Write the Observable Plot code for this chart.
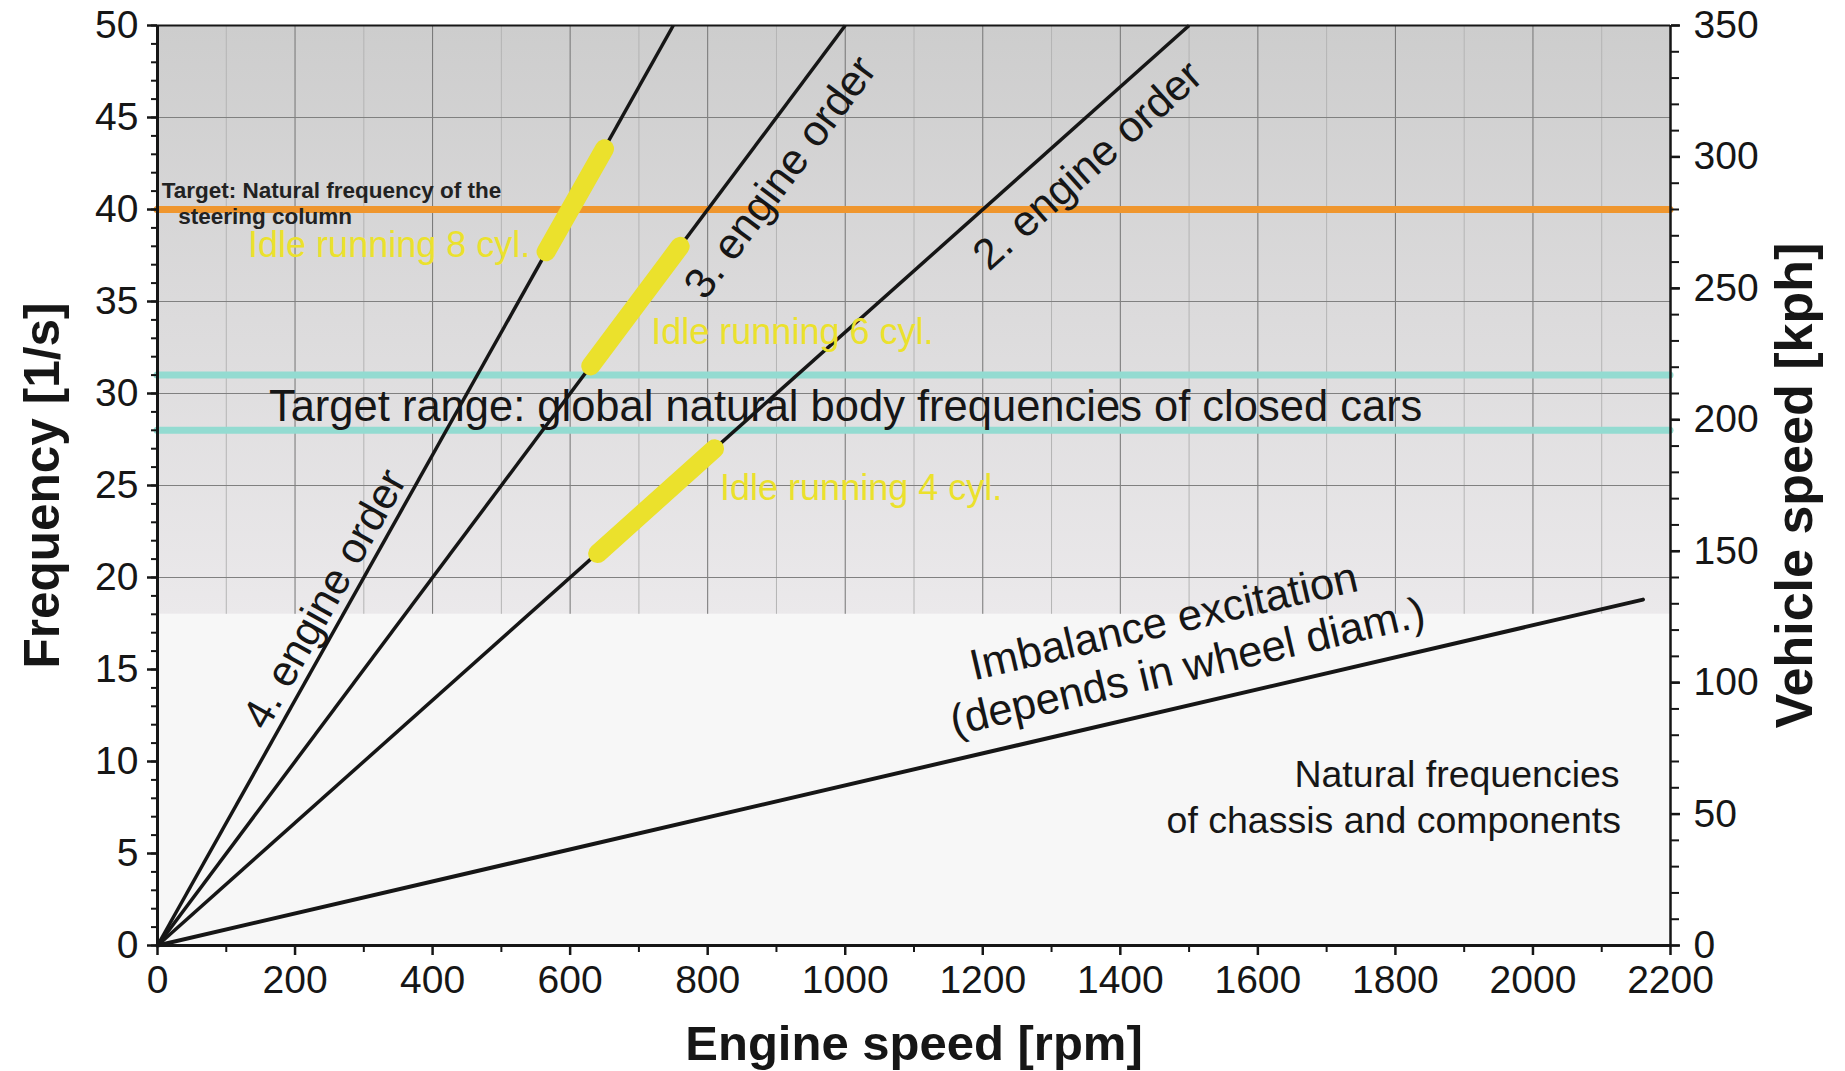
<!DOCTYPE html>
<html>
<head>
<meta charset="utf-8">
<script src="https://cdn.jsdelivr.net/npm/d3@7"></script>
<script src="https://cdn.jsdelivr.net/npm/@observablehq/plot@0.6"></script>
<style>
  html, body { margin: 0; padding: 0; background: #fff; }
  #chart svg { display: block; }
</style>
</head>
<body>
<div id="chart"></div>
<script>
// ---- Chart data -------------------------------------------------------
// Axes
const rpmDomain = [0, 2200];
const hzDomain = [0, 50];
const rpmLabelTicks = [0, 200, 400, 600, 800, 1000, 1200, 1400, 1600, 1800, 2000, 2200];
const hzLabelTicks = [0, 5, 10, 15, 20, 25, 30, 35, 40, 45, 50];
const kphLabelTicks = [0, 50, 100, 150, 200, 250, 300, 350];
const kphPerHz = 7; // 350 kph on the right axis sits at 50 1/s

// Engine order lines (from the origin up to the 50 1/s ceiling)
const orderLabels = ["4. engine order", "3. engine order", "2. engine order"];
const orderRpmTop = [750, 1000, 1500];
const orderHzTop = [50, 50, 50];
const orderLabelRpm = [158, 796, 1209];
const orderLabelHz = [11.6, 35.0, 36.6];

// Wheel imbalance excitation
const imbalanceRpm = [0, 2160];
const imbalanceHz = [0, 18.8];
const imbalanceLabels = ["Imbalance excitation", "(depends in wheel diam.)"];
const imbalanceLabelRpm = [1187, 1158];
const imbalanceLabelHz = [14.4, 11.4];

// Idle-speed ranges on the matching engine order
const idleLabels = ["Idle running 8 cyl.", "Idle running 6 cyl.", "Idle running 4 cyl."];
const idleRpmLow = [565, 630, 640];
const idleHzLow = [37.7, 31.5, 21.3];
const idleRpmHigh = [650, 760, 810];
const idleHzHigh = [43.3, 38.0, 27.0];
const idleLabelRpm = [542, 718, 818];
const idleLabelHz = [37.4, 32.7, 24.2];
const idleLabelAnchor = ["end", "start", "start"];

// Target frequencies
const steeringHz = 40;
const steeringLabels = ["Target: Natural frequency of the", "steering column"];
const steeringLabelRpm = [6, 30];
const steeringLabelHz = [40.6, 39.2];
const bodyRangeHz = [28, 31];
const bodyRangeLabel = "Target range: global natural body frequencies of closed cars";
const bodyRangeLabelRpm = 162;
const bodyRangeLabelHz = 28.5;

// Frequency bands: chassis/components below, body above
const chassisBandHz = [0, 18];
const bodyBandHz = [18, 50];
const chassisLabels = ["Natural frequencies", "of chassis and components"];
const chassisLabelRpm = [2126, 2128];
const chassisLabelHz = [8.6, 6.1];

// ---- Layout -----------------------------------------------------------
const W = 1845, H = 1071;
const M = {left: 157, right: 175, top: 25, bottom: 126};
const plotW = W - M.left - M.right;
const plotH = H - M.top - M.bottom;
const ink = "#161616";
const yellow = "#ebe12c";

// screen angle (degrees) of a line from the origin through (rpm, hz)
const screenAngle = (rpm, hz) =>
  -Math.atan2((hz / hzDomain[1]) * plotH, (rpm / rpmDomain[1]) * plotW) * 180 / Math.PI;

const idx3 = [0, 1, 2];
const rpmGridMinor = d3.range(100, 2200, 200);
const rpmGridMajor = d3.range(200, 2200, 200);
const hzGrid = d3.range(20, 50, 5);

const idleText = anchor => Plot.text(idx3.filter(i => idleLabelAnchor[i] === anchor), {
  x: i => idleLabelRpm[i], y: i => idleLabelHz[i], text: i => idleLabels[i],
  textAnchor: anchor, lineAnchor: "bottom", fontSize: 36, fill: yellow
});

const chart = Plot.plot({
  width: W,
  height: H,
  marginLeft: M.left,
  marginRight: M.right,
  marginTop: M.top,
  marginBottom: M.bottom,
  x: {domain: rpmDomain},
  y: {domain: hzDomain},
  style: {fontFamily: "'Liberation Sans', Arial, Helvetica, sans-serif", color: ink, background: "#fff"},
  marks: [
    // background bands
    Plot.rect([chassisBandHz], {x1: rpmDomain[0], x2: rpmDomain[1], y1: d => d[0], y2: d => d[1], fill: "#f7f7f7"}),
    Plot.rect([bodyBandHz], {x1: rpmDomain[0], x2: rpmDomain[1], y1: d => d[0], y2: d => d[1], fill: "url(#bodyBandFill)"}),

    // grid (only in the body band)
    Plot.ruleX(rpmGridMinor, {y1: bodyBandHz[0], y2: bodyBandHz[1], stroke: "#b4b4b4", strokeWidth: 1}),
    Plot.ruleX(rpmGridMajor, {y1: bodyBandHz[0], y2: bodyBandHz[1], stroke: "#747474", strokeWidth: 1}),
    Plot.ruleY(hzGrid, {x1: rpmDomain[0], x2: rpmDomain[1], stroke: "#808080", strokeWidth: 1}),

    // target lines
    Plot.ruleY(bodyRangeHz, {x1: rpmDomain[0], x2: rpmDomain[1], stroke: "#93dbd1", strokeWidth: 7, strokeLinecap: "round"}),
    Plot.ruleY([steeringHz], {x1: rpmDomain[0], x2: rpmDomain[1], stroke: "#ef962e", strokeWidth: 7, strokeLinecap: "round"}),

    // engine orders and imbalance excitation
    Plot.link(idx3, {x1: 0, y1: 0, x2: i => orderRpmTop[i], y2: i => orderHzTop[i], stroke: ink, strokeWidth: 3.5}),
    Plot.line(imbalanceRpm.map((r, i) => [r, imbalanceHz[i]]), {stroke: ink, strokeWidth: 4}),

    // idle ranges
    Plot.link(idx3, {
      x1: i => idleRpmLow[i], y1: i => idleHzLow[i],
      x2: i => idleRpmHigh[i], y2: i => idleHzHigh[i],
      stroke: yellow, strokeWidth: 19, strokeLinecap: "round"
    }),

    // annotations
    Plot.text(idx3, {
      x: i => orderLabelRpm[i], y: i => orderLabelHz[i], text: i => orderLabels[i],
      rotate: i => screenAngle(orderRpmTop[i], orderHzTop[i]),
      textAnchor: "start", lineAnchor: "bottom", fontSize: 43, fill: ink
    }),
    Plot.text([0, 1], {
      x: i => imbalanceLabelRpm[i], y: i => imbalanceLabelHz[i], text: i => imbalanceLabels[i],
      rotate: screenAngle(imbalanceRpm[1], imbalanceHz[1]),
      textAnchor: "start", lineAnchor: "bottom", fontSize: 43.5, fill: ink
    }),
    Plot.text([0, 1], {
      x: i => chassisLabelRpm[i], y: i => chassisLabelHz[i], text: i => chassisLabels[i],
      textAnchor: "end", lineAnchor: "bottom", fontSize: 37.5, fill: ink
    }),
    idleText("end"),
    idleText("start"),
    Plot.text([0, 1], {
      x: i => steeringLabelRpm[i], y: i => steeringLabelHz[i], text: i => steeringLabels[i],
      textAnchor: "start", lineAnchor: "bottom", fontSize: 22.5, fontWeight: "bold", fill: "#222"
    }),
    Plot.text([bodyRangeLabel], {
      x: bodyRangeLabelRpm, y: bodyRangeLabelHz, text: d => d,
      textAnchor: "start", lineAnchor: "bottom", fontSize: 43.5, fill: ink
    }),

    // frame
    Plot.ruleY([hzDomain[1]], {stroke: ink, strokeWidth: 2}),
    Plot.ruleX([rpmDomain[1]], {stroke: ink, strokeWidth: 2.5}),
    Plot.ruleX([rpmDomain[0]], {stroke: ink, strokeWidth: 3}),
    Plot.ruleY([hzDomain[0]], {stroke: ink, strokeWidth: 3}),

    // axes
    Plot.axisX({ticks: rpmLabelTicks, tickSize: 10, tickPadding: 10, fontSize: 39, tickFormat: d => String(d), label: null, stroke: ink, strokeWidth: 2.5}),
    Plot.axisX({ticks: rpmGridMinor, tickSize: 7, tickFormat: () => "", label: null, stroke: ink, strokeWidth: 2}),
    Plot.axisY({ticks: hzLabelTicks, tickSize: 10, tickPadding: 9, fontSize: 39, tickFormat: d => String(d), label: null, stroke: ink, strokeWidth: 2.5}),
    Plot.axisY({ticks: d3.range(0, 51, 1), tickSize: 6, tickFormat: () => "", label: null, stroke: ink, strokeWidth: 2}),
    Plot.axisY({
      anchor: "right", ticks: kphLabelTicks.map(k => k / kphPerHz),
      tickFormat: d => String(Math.round(d * kphPerHz)),
      tickSize: 9, tickPadding: 14, fontSize: 39, label: null, stroke: ink, strokeWidth: 2.5
    }),
    Plot.axisY({
      anchor: "right", ticks: d3.range(0, 351, 10).map(k => k / kphPerHz),
      tickSize: 8, tickFormat: () => "", label: null, stroke: ink, strokeWidth: 2
    }),

    // axis titles
    Plot.text(["Frequency [1/s]"], {frameAnchor: "left", dx: -99, rotate: -90, text: d => d, textAnchor: "middle", lineAnchor: "bottom", fontSize: 49.5, fontWeight: "bold", fill: ink}),
    Plot.text(["Vehicle speed [kph]"], {frameAnchor: "right", dx: 141, rotate: -90, text: d => d, textAnchor: "middle", lineAnchor: "bottom", fontSize: 52, fontWeight: "bold", fill: ink}),
    Plot.text(["Engine speed [rpm]"], {frameAnchor: "bottom", dy: 114, text: d => d, textAnchor: "middle", lineAnchor: "bottom", fontSize: 49, fontWeight: "bold", fill: ink})
  ]
});

// vertical shading of the body-frequency band
d3.select(chart).insert("defs", ":first-child").html(
  `<linearGradient id="bodyBandFill" x1="0" y1="0" x2="0" y2="1">
     <stop offset="0" stop-color="#cdcdcd"/>
     <stop offset="1" stop-color="#ebe9eb"/>
   </linearGradient>`
);

document.getElementById("chart").append(chart);
</script>
</body>
</html>
